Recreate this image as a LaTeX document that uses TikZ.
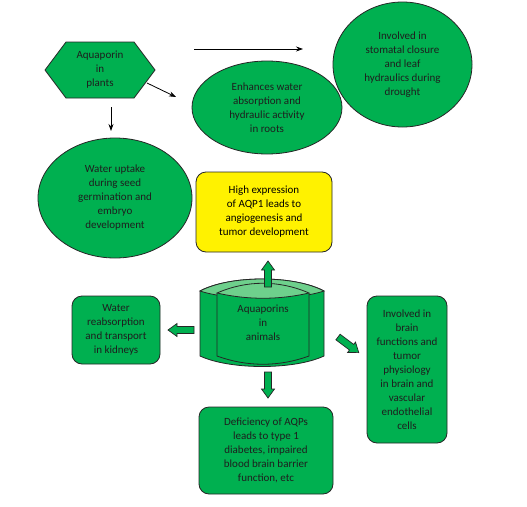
\documentclass[tikz,border=0pt]{standalone}
\usepackage{fontspec}
\setmainfont{Carlito}
\usetikzlibrary{shapes.geometric,arrows.meta}
\definecolor{offgreen}{RGB}{0,176,80}
\definecolor{lightgr}{RGB}{110,208,140}
\definecolor{txtc}{RGB}{30,30,30}
\tikzset{
  base/.style={draw=black!85, line width=0.8pt, fill=offgreen, text=txtc, align=center,
    inner sep=0pt, font=\fontsize{11}{14}\selectfont},
  ell/.style={base, ellipse},
  gbox/.style={base, rectangle, rounded corners=10pt},
  ybox/.style={base, rectangle, rounded corners=10pt, fill=yellow, text=black},
  thinarr/.style={draw=black, line width=0.8pt, -{Stealth[length=7pt,width=5pt]}},
  blockarr/.style={draw=black!85, line width=0.7pt, fill=offgreen, line join=miter},
  blockarrow/.pic={\draw[blockarr] (0,-3.5) -- (17,-3.5) -- (17,-6.5) -- (26,0) -- (17,6.5) -- (17,3.5) -- (0,3.5) -- cycle;}
}
\begin{document}
\begin{tikzpicture}[x=1pt,y=-1pt]
\useasboundingbox[fill=white] (0,0) rectangle (527,506);

% plants hexagon
\draw[base] (45,70) -- (66,42) -- (134,42) -- (155,70) -- (134,98) -- (66,98) -- cycle;
\node[base, draw=none, fill=none] (hex) at (100,70) {Aquaporin\\in\\plants};

\node[ell, minimum width=150pt, minimum height=93pt] (roots) at (267,107.5) {Enhances water\\absorption and\\hydraulic activity\\in roots};
\node[ell, minimum width=139pt, minimum height=125pt] (stoma) at (402.5,64.5) {Involved in\\stomatal closure\\and leaf\\hydraulics during\\drought};
\node[ell, minimum width=154pt, minimum height=120pt] (seed) at (115,198) {Water uptake\\during seed\\germination and\\embryo\\development};
\node[ybox, minimum width=136pt, minimum height=80pt] (aqp1) at (264,212) {High expression\\of AQP1 leads to\\angiogenesis and\\tumor development};

% thin arrows
\coordinate (h1) at (194,49); \coordinate (h2) at (303,49);
\coordinate (d1) at (147,83); \coordinate (d2) at (176,97);
\coordinate (v1) at (111,107); \coordinate (v2) at (111,131);
\draw[thinarr] (h1) -- (h2);
\draw[thinarr] (d1) -- (d2);
\draw[thinarr] (v1) -- (v2);

% animals cylinder
\draw[base] (200,291) .. controls (230,275) and (294,275) .. (324,291) -- (324,356)
  .. controls (294,370) and (230,370) .. (200,356) -- cycle;
\draw[base, fill=lightgr] (200,291) .. controls (230,275) and (294,275) .. (324,291)
  .. controls (294,301) and (230,301) .. (200,291) -- cycle;
\draw[base] (217,293) -- (217,356) .. controls (247,367) and (279,367) .. (309,356) -- (309,293);
\draw[base, fill=lightgr] (217,293) .. controls (247,280) and (279,280) .. (309,293)
  .. controls (279,300) and (247,300) .. (217,293) -- cycle;
\node[base, draw=none, fill=none] (anim) at (263,323) {Aquaporins\\in\\animals};

\node[gbox, minimum width=88pt, minimum height=68pt] (kid) at (116,330) {Water\\reabsorption\\and transport\\in kidneys};
\node[gbox, minimum width=80pt, minimum height=147pt] (brain) at (407,369.5) {Involved in\\brain\\functions and\\tumor\\physiology\\in brain and\\vascular\\endothelial\\cells};
\node[gbox, minimum width=134pt, minimum height=87pt] (defic) at (266,450.5) {Deficiency of AQPs\\leads to type 1\\diabetes, impaired\\blood brain barrier\\function, etc};

% block arrows
\pic[rotate=90] at (268,287) {blockarrow};
\pic[rotate=180] at (194,330) {blockarrow};
\pic[rotate=-37] at (338,337) {blockarrow};
\pic[rotate=-90] at (268,372) {blockarrow};
\end{tikzpicture}
\end{document}
